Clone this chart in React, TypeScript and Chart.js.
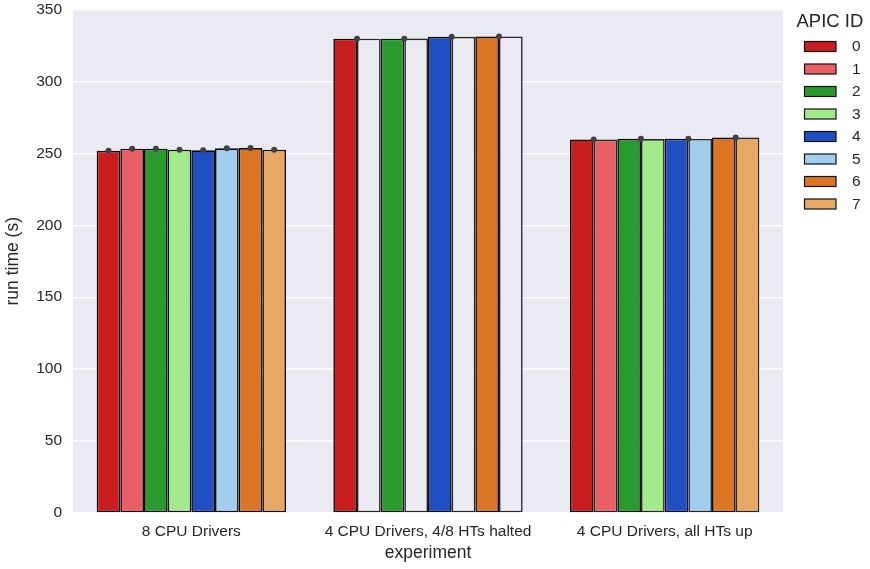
import React, { useEffect, useRef } from "react";
import { Chart, registerables } from "chart.js";

Chart.register(...registerables);

const categories = ["8 CPU Drivers", "4 CPU Drivers, 4/8 HTs halted", "4 CPU Drivers, all HTs up"];
const apicIds = ["0", "1", "2", "3", "4", "5", "6", "7"];
// values[apic][category]
const apic0 = [251.8, 329.7, 259.7];
const apic1 = [253.2, 329.7, 259.6];
const apic2 = [253.2, 329.7, 260.1];
const apic3 = [252.5, 329.8, 259.9];
const apic4 = [252.1, 331.0, 260.1];
const apic5 = [253.5, 331.0, 260.0];
const apic6 = [253.7, 331.3, 261.1];
const apic7 = [252.5, 331.3, 261.0];
const seriesValues = [apic0, apic1, apic2, apic3, apic4, apic5, apic6, apic7];
// how the mean markers sit per category: at each bar, or one per pair of bars
const dotMode = ["each", "pair", "pair"];
// categories where odd APIC IDs are drawn unfilled
const hollowOdd = [false, true, false];

const colors = ["#c81e1e", "#ea5f66", "#289a2e", "#a2ea8b", "#1e4fc3", "#a1cdef", "#da7625", "#e6a862"];
const BG = "#eaeaf2";
const TXT = "#262626";
const FONT = "'Liberation Sans', Arial, sans-serif";

export default function App() {
  const ref = useRef<HTMLCanvasElement>(null);
  useEffect(() => {
    if (!ref.current) return;
    const bgPlugin = {
      id: "bg",
      beforeDraw(chart: any) {
        const { ctx, chartArea: a } = chart;
        ctx.save();
        ctx.fillStyle = BG;
        ctx.fillRect(a.left, a.top, a.right - a.left, a.bottom - a.top);
        ctx.restore();
      },
    };
    const dotPlugin = {
      id: "dots",
      afterDatasetsDraw(chart: any) {
        const { ctx } = chart;
        const y = chart.scales.y;
        ctx.save();
        ctx.fillStyle = "#424242";
        seriesValues.forEach((vals, j) => {
          const meta = chart.getDatasetMeta(j);
          vals.forEach((v, i) => {
            const bar = meta.data[i] as any;
            let x: number;
            if (dotMode[i] === "each") x = bar.x;
            else {
              if (j % 2 === 1) return;
              x = bar.x + bar.width / 2;
            }
            ctx.beginPath();
            ctx.arc(x, y.getPixelForValue(v), 3, 0, Math.PI * 2);
            ctx.fill();
          });
        });
        ctx.restore();
      },
    };
    const legendPlugin = {
      id: "customLegend",
      afterDraw(chart: any) {
        const { ctx, chartArea: a } = chart;
        const x0 = a.right;
        ctx.save();
        ctx.fillStyle = TXT;
        ctx.textBaseline = "middle";
        ctx.textAlign = "left";
        ctx.font = `18.5px ${FONT}`;
        ctx.fillText("APIC ID", x0 + 13.5, 22);
        ctx.font = `15.5px ${FONT}`;
        apicIds.forEach((id, i) => {
          const cy = 46.5 + i * 22.5;
          ctx.fillStyle = colors[i];
          ctx.fillRect(x0 + 21.5, cy - 5, 31.5, 10);
          ctx.strokeStyle = "#111";
          ctx.lineWidth = 1.2;
          ctx.strokeRect(x0 + 21.5, cy - 5, 31.5, 10);
          ctx.fillStyle = TXT;
          ctx.fillText(id, x0 + 69, cy + 0.5);
        });
        ctx.restore();
      },
    };
    const chart = new Chart(ref.current, {
      type: "bar",
      data: {
        labels: categories,
        datasets: seriesValues.map((vals, j) => ({
          label: apicIds[j],
          data: vals,
          backgroundColor: vals.map((_, i) => (hollowOdd[i] && j % 2 === 1 ? BG : colors[j])),
          borderColor: vals.map((_, i) => (j % 2 === 1 && i > 0 ? "#262626" : "#0a0a0a")),
          borderWidth: 1.6,
          borderSkipped: false,
          categoryPercentage: 0.8,
          barPercentage: 1.0,
        })),
      },
      options: {
        responsive: false,
        animation: false,
        layout: { padding: { top: 0, right: 87, left: 0, bottom: 0 } },
        plugins: { legend: { display: false }, tooltip: { enabled: false } },
        scales: {
          x: {
            grid: { display: false, drawTicks: false },
            border: { display: false },
            ticks: { color: TXT, font: { family: FONT, size: 15.5 }, padding: 9, maxRotation: 0 },
            title: { display: true, text: "experiment", color: TXT, font: { family: FONT, size: 17.5 }, padding: { top: 0, bottom: 5.5 } },
            afterFit(s: any) { s.height = 56; },
          },
          y: {
            min: 0,
            max: 350,
            ticks: { stepSize: 50, color: TXT, font: { family: FONT, size: 15.5 }, padding: 11 },
            grid: { color: "#ffffff", lineWidth: 1.4, drawTicks: false },
            border: { display: false },
            title: { display: true, text: "run time (s)", color: TXT, font: { family: FONT, size: 17.5 }, padding: { top: 3, bottom: 0 } },
            afterFit(s: any) { s.width = 73; s.paddingTop = 9.5; s.paddingBottom = 0; },
          },
        },
      },
      plugins: [bgPlugin, dotPlugin, legendPlugin],
    });
    return () => chart.destroy();
  }, []);
  return (
    <div style={{ position: "absolute", left: 0, top: 0, width: 870, height: 569, background: "#fff" }}>
      <canvas ref={ref} width={870} height={569} />
    </div>
  );
}
